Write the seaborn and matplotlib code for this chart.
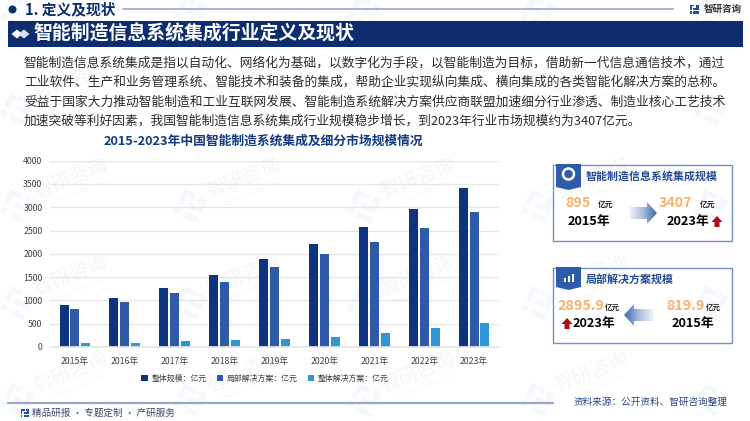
# smart_manufacturing_chart.py

import numpy as np
import pandas as pd
import matplotlib.pyplot as plt
import seaborn as sns
from matplotlib.colors import LinearSegmentedColormap
from matplotlib.patches import Circle, Polygon, Rectangle

years = ["2015年", "2016年", "2017年", "2018年", "2019年", "2020年", "2021年", "2022年", "2023年"]
total_scale = [895, 1050, 1270, 1555, 1890, 2210, 2570, 2955, 3407]
local_solution = [819.9, 965, 1170, 1400, 1710, 1990, 2260, 2550, 2895.9]
whole_solution = [80, 92, 120, 143, 165, 208, 300, 400, 511]
series_names = ["整体规模：亿元", "局部解决方案：亿元", "整体解决方案：亿元"]
series_colors = ["#0E337F", "#2E5AA7", "#2E96D3"]
y_ticks = [0, 500, 1000, 1500, 2000, 2500, 3000, 3500, 4000]

body_lines = [
    "智能制造信息系统集成是指以自动化、网络化为基础，以数字化为手段，以智能制造为目标，借助新一代信息通信技术，通过",
    "工业软件、生产和业务管理系统、智能技术和装备的集成，帮助企业实现纵向集成、横向集成的各类智能化解决方案的总称。",
    "受益于国家大力推动智能制造和工业互联网发展、智能制造系统解决方案供应商联盟加速细分行业渗透、制造业核心工艺技术",
    "加速突破等利好因素，我国智能制造信息系统集成行业规模稳步增长，到2023年行业市场规模约为3407亿元。",
]

NAVY = "#0D2D6E"
ORANGE = "#FBB26A"
FONTS = ["Noto Sans CJK SC", "DejaVu Sans"]

sns.set_theme(style="white")
plt.rcParams["font.family"] = FONTS

fig = plt.figure(figsize=(7.5, 4.21), dpi=100, facecolor="white")

# page layer in pixel coordinates, behind the chart
page = fig.add_axes([0, 0, 1, 1], zorder=0)
page.set_xlim(0, 750)
page.set_ylim(421, 0)
page.axis("off")


def put(x, y, s, size, color="#222222", weight="normal", ha="left", ax=page, **kw):
    return ax.text(x, y, s, fontsize=size, color=color, fontweight=weight,
                   ha=ha, va="center", **kw)


def small_logo(ax, x, y, s, color, angle=0, zorder=1):
    """Two interlocked strokes, the mark of the watermark and the footer."""
    t = np.radians(angle)
    rot = np.array([[np.cos(t), np.sin(t)], [-np.sin(t), np.cos(t)]])
    shapes = [
        [(-1, -1), (0.1, -1), (0.1, -0.6), (-0.55, -0.6), (-0.55, 0.2), (-1, 0.2)],
        [(-1, 0.45), (-0.55, 0.45), (-0.55, 1), (-1, 1)],
        [(0.35, -1), (1, -1), (1, 0.15), (-0.2, 0.15), (-0.2, -0.25), (0.55, -0.25), (0.55, -0.6), (0.35, -0.6)],
        [(-0.2, 0.55), (1, 0.55), (1, 1), (-0.2, 1)],
    ]
    for pts in shapes:
        xy = (np.array(pts) * s) @ rot.T + [x, y]
        ax.add_patch(Polygon(xy, closed=True, fc=color, ec="none", zorder=zorder))


def draw_watermarks():
    for wy in [12, 109, 206, 303, 400]:
        for wx in [17, 190, 364, 538, 711]:
            small_logo(page, wx, wy, 13, "#F5F8FC", angle=-25, zorder=0.5)
            # the ones the page edge would cut get only the mark
            if wy < 50 or wx > 700:
                continue
            page.text(wx + 54, wy - 28, "智研咨询", fontsize=14, color="#F4F5F8",
                      rotation=22, ha="center", va="center", zorder=0.5)
            page.text(wx + 60, wy - 12, "INTELLIGENCE RESEARCH GROUP", fontsize=2.6,
                      color="#F4F5F8", rotation=22, ha="center", va="center", zorder=0.5,
                      family="DejaVu Sans")


def gradient_arrow(x0, x1, yc, pointing="right"):
    """Block arrow fading from pale at its tail to blue at its head."""
    head = 10
    half_body, half_head = 6, 11
    if pointing == "right":
        pts = [(x0, yc - half_body), (x1 - head, yc - half_body), (x1 - head, yc - half_head),
               (x1, yc), (x1 - head, yc + half_head), (x1 - head, yc + half_body), (x0, yc + half_body)]
        ramp = np.linspace(0, 1, 64).reshape(1, -1)
    else:
        pts = [(x1, yc - half_body), (x0 + head, yc - half_body), (x0 + head, yc - half_head),
               (x0, yc), (x0 + head, yc + half_head), (x0 + head, yc + half_body), (x1, yc + half_body)]
        ramp = np.linspace(1, 0, 64).reshape(1, -1)
    cmap = LinearSegmentedColormap.from_list("fade", ["#F2F5FA", "#A9BCDC", "#3F68AE"])
    im = page.imshow(ramp, extent=(x0, x1, yc + half_head, yc - half_head), cmap=cmap,
                     aspect="auto", zorder=3)
    shape = Polygon(pts, closed=True, fc="none", ec="none", transform=page.transData)
    page.add_patch(shape)
    im.set_clip_path(shape)
    page.set_xlim(0, 750)
    page.set_ylim(421, 0)


def red_arrow(x, y):
    pts = [(x, y - 6), (x + 5.5, y), (x + 2.5, y), (x + 2.5, y + 5),
           (x - 2.5, y + 5), (x - 2.5, y), (x - 5.5, y)]
    page.add_patch(Polygon(pts, closed=True, fc="#B00C12", ec="none", zorder=3))


def panel(y0, y1, tab_bottom, title, title_x_color="#234A93"):
    page.add_patch(Rectangle((553, y0), 179, y1 - y0, fc="none", ec="#7391C6", lw=1, zorder=2))
    tab = [(556, y0 - 1), (581, y0 - 1), (581, tab_bottom - 3), (568.5, tab_bottom), (556, tab_bottom - 3)]
    page.add_patch(Polygon(tab, closed=True, fc="#2F5CA8", ec="none", zorder=3))
    put(586, y0 + 11, title, 7.9, color=title_x_color, weight="bold", zorder=4)


# watermarks and page furniture
draw_watermarks()
page.add_patch(Circle((12.5, 9.5), 4, fc=NAVY, ec="none", zorder=2))
put(25, 9.5, "1. 定义及现状", 10.6, color=NAVY, weight="bold", zorder=2)
page.plot([123, 673], [9, 9], color="#9AA8C6", lw=1.2, zorder=2)
small_logo(page, 694, 9, 4.5, "#1F4FA3", zorder=2)
put(704, 8.5, "智研咨询", 6.8, color="#333333", weight="bold", zorder=2)

page.add_patch(Rectangle((8, 21), 735, 26, fc=NAVY, ec="none", zorder=2))
for dx, col in zip([17, 24], ["white", "#DDE3EE"]):
    page.add_patch(Polygon([(dx - 5.5, 34), (dx, 29.5), (dx + 5.5, 34), (dx, 38.5)],
                           closed=True, fc=col, ec="none", zorder=3))
put(33, 34, "智能制造信息系统集成行业定义及现状", 13.6, color="white", weight="bold", zorder=3)

for line, ly in zip(body_lines, [63, 82.5, 102, 121]):
    put(24, ly, line, 9.17, color="#2B2B2B", zorder=2)

put(104, 141, "2015-2023年中国智能制造系统集成及细分市场规模情况", 9.2,
    color="#123A83", weight="bold", zorder=2)

page.plot([8, 553], [402.5, 402.5], color="#9AA8C6", lw=1.6, zorder=2)
small_logo(page, 24.5, 413, 4, "#1F4FA3", zorder=2)
put(32, 413, "精品研报 · 专题定制 · 产研服务", 6.9, color="#3A4A6B", zorder=2)
put(574, 402, "资料来源：公开资料、智研咨询整理", 6.9, color="#2C4483", zorder=2)

# right panel, overall scale
panel(165, 241, 190, "智能制造信息系统集成规模")
page.add_patch(Circle((568.5, 174), 5.5, fc="none", ec="white", lw=1.8, zorder=4))
put(565, 203, "895", 10.3, color=ORANGE, weight="bold", zorder=4)
put(598, 204.5, "亿元", 5.6, color="#222222", weight="bold", zorder=4)
put(568, 222, "2015年", 9.2, color="black", weight="bold", zorder=4)
gradient_arrow(629, 657, 213)
put(659, 203, "3407", 10.3, color=ORANGE, weight="bold", zorder=4)
put(700, 204.5, "亿元", 5.6, color="#222222", weight="bold", zorder=4)
put(667, 222, "2023年", 9.2, color="black", weight="bold", zorder=4)
red_arrow(717, 222)

# right panel, local solution scale
panel(268, 343, 290, "局部解决方案规模")
for bx, bh in zip([563.5, 567.5, 571.5], [4, 6, 8]):
    page.add_patch(Rectangle((bx, 282 - bh), 2.5, bh, fc="white", ec="none", zorder=4))
put(557, 306, "2895.9", 10.3, color=ORANGE, weight="bold", zorder=4)
put(605, 307, "亿元", 5.4, color="#222222", weight="bold", zorder=4)
red_arrow(567, 324)
put(573, 324, "2023年", 9.2, color="black", weight="bold", zorder=4)
gradient_arrow(624, 654, 315, pointing="left")
put(666, 306, "819.9", 10.3, color=ORANGE, weight="bold", zorder=4)
put(706, 307, "亿元", 5.4, color="#222222", weight="bold", zorder=4)
put(672, 324, "2015年", 9.2, color="black", weight="bold", zorder=4)

# bar chart
df = pd.DataFrame({
    "year": years,
    series_names[0]: total_scale,
    series_names[1]: local_solution,
    series_names[2]: whole_solution,
})
long_df = df.melt(id_vars="year", var_name="series", value_name="value")

ax = fig.add_axes([50 / 750, (421 - 347) / 421, 449 / 750, (347 - 160.7) / 421], zorder=1)
ax.patch.set_alpha(0)
sns.barplot(data=long_df, x="year", y="value", hue="series", palette=series_colors,
            width=0.655, gap=0.17, ax=ax, saturation=1, linewidth=0)
ax.set_ylim(0, 4000)
ax.set_xlim(-0.5, 8.5)
ax.set_yticks(y_ticks)
ax.set_xlabel("")
ax.set_ylabel("")
ax.grid(axis="y", color="#E6E6E6", lw=1)
ax.set_axisbelow(True)
sns.despine(ax=ax, left=True, top=True, right=True)
ax.spines["bottom"].set_color("#E6E6E6")
ax.tick_params(axis="both", length=0, labelsize=6.3, labelcolor="#404040")
ax.tick_params(axis="x", pad=7)
ax.tick_params(axis="y", pad=5.5)

sns.move_legend(ax, "center", bbox_to_anchor=(0.479, -0.168), ncol=3, title=None, frameon=False,
                fontsize=5.7, handlelength=0.8, handleheight=0.8, handletextpad=0.5,
                columnspacing=1.25, labelcolor="#404040")

plt.savefig("out.png", dpi=100)
